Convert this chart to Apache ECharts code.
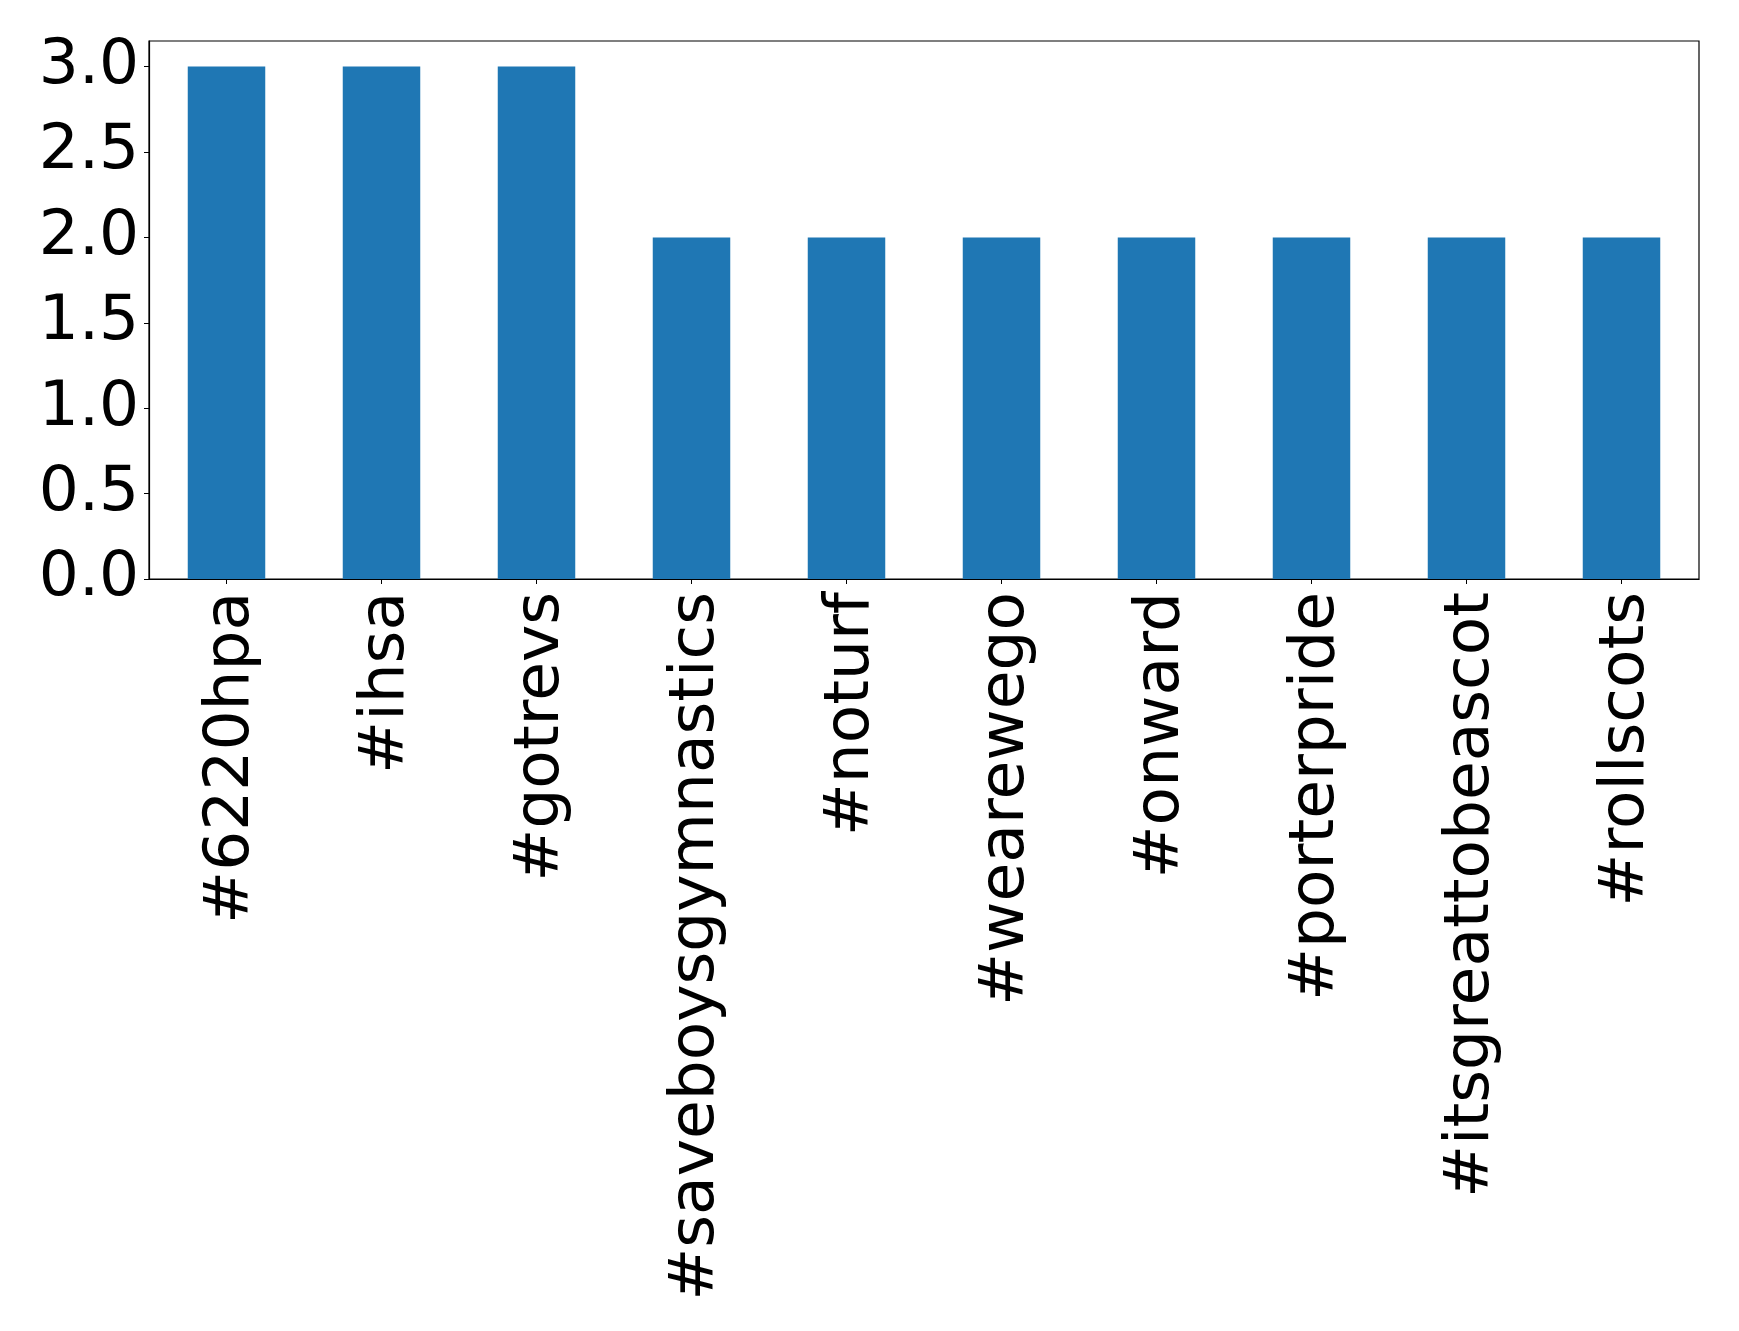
<!DOCTYPE html>
<html>
<head>
<meta charset="utf-8">
<script src="https://cdn.jsdelivr.net/npm/echarts@6/dist/echarts.min.js"></script>
<style>
html,body{margin:0;padding:0;background:#fff;}
#chart{width:1739px;height:1331px;}
</style>
</head>
<body>
<div id="chart"></div>
<script>
const categories = ['#6220hpa','#ihsa','#gotrevs','#saveboysgymnastics','#noturf','#wearewego','#onward','#porterpride','#itsgreattobeascot','#rollscots'];
const counts = [3,3,3,2,2,2,2,2,2,2];
const yTicks = [0,0.5,1.0,1.5,2.0,2.5,3.0];

const chart = echarts.init(document.getElementById('chart'), null, {renderer:'canvas'});
const font = 'DejaVu Sans';
chart.setOption({
  animation:false,
  backgroundColor:'#ffffff',
  grid:{left:149,right:40,top:41,bottom:752,show:true,borderColor:'#000',borderWidth:1.2,containLabel:false},
  xAxis:{
    type:'category',
    data:categories,
    boundaryGap:true,
    axisLine:{show:true,lineStyle:{color:'#000',width:1.2}},
    axisTick:{show:true,alignWithLabel:true,length:5,lineStyle:{color:'#000'}},
    axisLabel:{rotate:90,interval:0,margin:13,verticalAlign:'top',lineHeight:11,color:'#000',fontSize:63,fontFamily:font}
  },
  yAxis:{
    type:'value',
    min:0,max:3.15,
    splitLine:{show:false},
    axisLine:{show:true,lineStyle:{color:'#000',width:1.2}},
    axisTick:{show:true,length:5,lineStyle:{color:'#000'},customValues:yTicks},
    axisLabel:{color:'#000',fontSize:63,fontFamily:font,margin:10,customValues:yTicks,formatter:v=>Number(v).toFixed(1)}
  },
  series:[{
    type:'bar',
    data:counts,
    barWidth:'50%',
    itemStyle:{color:'#1f77b4'}
  }]
});
</script>
</body>
</html>
